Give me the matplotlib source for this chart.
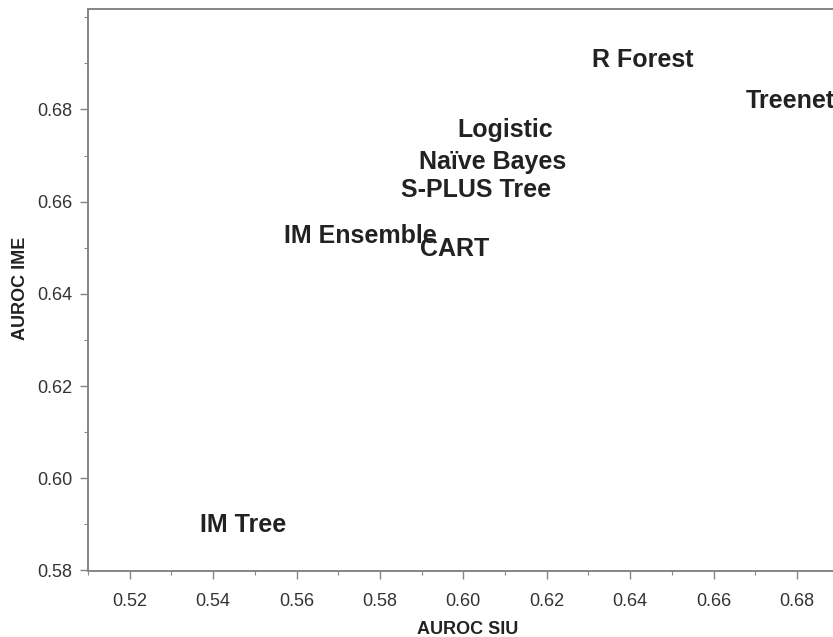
import matplotlib
matplotlib.use("Agg")
import matplotlib.pyplot as plt
from matplotlib.ticker import MultipleLocator

plt.rcParams['font.family'] = ['Liberation Sans', 'DejaVu Sans']

models = ["R Forest", "Treenet", "Logistic", "Naïve Bayes", "S-PLUS Tree",
          "IM Ensemble", "CART", "IM Tree"]
auroc_siu = [0.6430, 0.6783, 0.6100, 0.6070, 0.6031, 0.5752, 0.5978, 0.5471]
auroc_ime = [0.6912, 0.6823, 0.6762, 0.6691, 0.6630, 0.6531, 0.6502, 0.5904]

x_ticks = [0.52, 0.54, 0.56, 0.58, 0.60, 0.62, 0.64, 0.66, 0.68]
y_ticks = [0.58, 0.60, 0.62, 0.64, 0.66, 0.68]

W, H = 833, 637
ax_l, ax_r, ax_t, ax_b = 88, 838.7, 9, 570.5

fig = plt.figure(figsize=(W/100, H/100), dpi=100)
ax = fig.add_axes([ax_l/W, (H-ax_b)/H, (ax_r-ax_l)/W, (ax_b-ax_t)/H])

for name, xv, yv in zip(models, auroc_siu, auroc_ime):
    ax.text(xv, yv, name, ha='center', va='center_baseline', fontsize=18,
            fontweight='bold', color='#222222')

ax.set_xlim(0.51, 0.69)
ax.set_ylim(0.58, 0.7018)
ax.set_xticks(x_ticks)
ax.set_xticklabels([f"{v:.2f}" for v in x_ticks])
ax.set_yticks(y_ticks)
ax.set_yticklabels([f"{v:.2f}" for v in y_ticks])
ax.xaxis.set_minor_locator(MultipleLocator(0.01))
ax.yaxis.set_minor_locator(MultipleLocator(0.01))

spine_col = '#858585'
for s in ax.spines.values():
    s.set_color(spine_col)
    s.set_linewidth(1.4)
ax.tick_params(which='major', direction='out', length=6, width=1.0,
               color=spine_col, labelsize=13, labelcolor='#333333')
ax.tick_params(which='minor', direction='out', length=3, width=0.8,
               color=spine_col)
ax.tick_params(axis='x', which='major', pad=10)
ax.tick_params(axis='y', which='major', pad=5.5)

ax.set_xlabel("AUROC SIU", fontsize=13, fontweight='bold', color='#222222')
ax.set_ylabel("AUROC IME", fontsize=13, fontweight='bold', color='#222222')
ax.xaxis.set_label_coords((468-ax_l)/(ax_r-ax_l), -(621-ax_b)/(ax_b-ax_t))
ax.yaxis.set_label_coords(-(ax_l-29.5)/(ax_r-ax_l), (ax_b-288)/(ax_b-ax_t))

fig.savefig("out.png", dpi=100)
